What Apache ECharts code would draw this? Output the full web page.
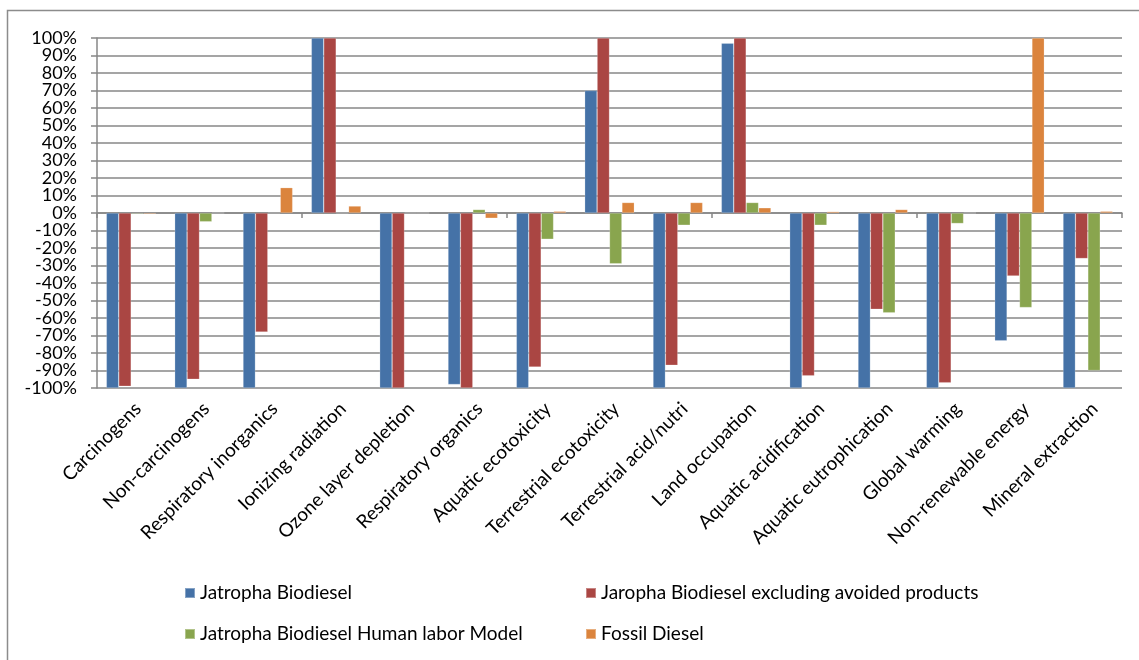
<!DOCTYPE html>
<html>
<head>
<meta charset="utf-8">
<script src="https://cdn.jsdelivr.net/npm/echarts@6/dist/echarts.min.js"></script>
<style>
  html, body { margin: 0; padding: 0; background: #ffffff; }
  #chart { width: 1139px; height: 660px; }
</style>
</head>
<body>
<div id="chart"></div>
<script>
// Impact categories along the x axis
const categories = [
  'Carcinogens', 'Non-carcinogens', 'Respiratory inorganics', 'Ionizing radiation',
  'Ozone layer depletion', 'Respiratory organics', 'Aquatic ecotoxicity',
  'Terrestrial ecotoxicity', 'Terrestrial acid/nutri', 'Land occupation',
  'Aquatic acidification', 'Aquatic eutrophication', 'Global warming',
  'Non-renewable energy', 'Mineral extraction'
];

// Percent tick labels on the value axis, bottom to top
const yTickLabels = [
  '-100%', '-90%', '-80%', '-70%', '-60%', '-50%', '-40%', '-30%', '-20%', '-10%',
  '0%', '10%', '20%', '30%', '40%', '50%', '60%', '70%', '80%', '90%', '100%'
];

// Relative impact per scenario, in percent
const jatrophaBiodiesel = [-100, -100, -100, 100, -100, -98, -100, 70, -100, 97, -100, -100, -100, -73, -100];
const jatrophaExclAvoided = [-99, -95, -68, 100, -100, -100, -88, 100, -87, 100, -93, -55, -97, -36, -26];
const jatrophaHumanLabor = [-0.5, -5, 0, 0, 0, 2, -15, -29, -7, 6, -7, -57, -6, -54, -90];
const fossilDiesel = [-0.6, 0, 14.5, 4, 0, -3, 1, 6, 6, 3, 0.8, 2, 0, 100, 1];

const seriesNames = [
  'Jatropha Biodiesel',
  'Jaropha Biodiesel excluding avoided products',
  'Jatropha Biodiesel Human labor Model',
  'Fossil Diesel'
];
const seriesColors = ['#4572A7', '#AA4643', '#89A54E', '#DB843D'];
const seriesData = [jatrophaBiodiesel, jatrophaExclAvoided, jatrophaHumanLabor, fossilDiesel];

const FONT = 'Lato, "Open Sans", sans-serif';
const GRID_GRAY = '#878787';

const chart = echarts.init(document.getElementById('chart'), null, { renderer: 'canvas' });

const legendText = { fontFamily: FONT, fontSize: 19, color: '#000', lineHeight: 20 };

chart.setOption({
  animation: false,
  backgroundColor: '#ffffff',
  graphic: [{
    type: 'rect',
    shape: { x: 7.5, y: 10.5, width: 1300, height: 800 },
    style: { fill: 'none', stroke: '#8c8c8c', lineWidth: 1.5 },
    silent: true
  }],
  grid: { left: 97, right: 17, top: 38, bottom: 272, containLabel: false },
  legend: [
    {
      left: 184, top: 583, orient: 'vertical', itemGap: 21, padding: 0,
      itemWidth: 10, itemHeight: 10, icon: 'rect',
      textStyle: legendText,
      data: [seriesNames[0], seriesNames[2]]
    },
    {
      left: 585, top: 583, orient: 'vertical', itemGap: 21, padding: 0,
      itemWidth: 10, itemHeight: 10, icon: 'rect',
      textStyle: legendText,
      data: [seriesNames[1], seriesNames[3]]
    }
  ],
  xAxis: [
    {
      // category labels along the bottom of the plot
      type: 'category',
      data: categories,
      position: 'bottom',
      axisLine: { show: false, onZero: false },
      axisTick: { show: false },
      splitLine: { show: false },
      axisLabel: {
        rotate: 45, interval: 0, margin: 11,
        align: 'right', verticalAlign: 'top',
        fontFamily: FONT, fontSize: 19, color: '#000'
      }
    },
    {
      // baseline through zero with tick marks between categories
      type: 'category',
      data: categories,
      position: 'bottom',
      axisLine: { show: true, onZero: true, lineStyle: { color: GRID_GRAY, width: 1.5 } },
      axisTick: { show: true, length: 5, lineStyle: { color: GRID_GRAY, width: 1.5 } },
      axisLabel: { show: false },
      splitLine: { show: false }
    }
  ],
  yAxis: [
    {
      // value scale: line, ticks and gridlines
      type: 'value',
      min: -100, max: 100, interval: 10,
      axisLine: { show: true, onZero: false, lineStyle: { color: GRID_GRAY, width: 1.5 } },
      axisTick: { show: true, length: 6, lineStyle: { color: GRID_GRAY, width: 1.5 } },
      splitLine: { show: true, lineStyle: { color: GRID_GRAY, width: 1.5 } },
      axisLabel: { show: false }
    },
    {
      // percent labels, one per gridline, all shown
      type: 'category',
      data: yTickLabels,
      boundaryGap: false,
      position: 'left',
      axisLine: { show: false, onZero: false },
      axisTick: { show: false },
      splitLine: { show: false },
      axisLabel: {
        interval: 0, margin: 20,
        fontFamily: FONT, fontSize: 18, color: '#000'
      }
    }
  ],
  series: seriesNames.map((name, i) => ({
    name: name,
    type: 'bar',
    xAxisIndex: 0,
    yAxisIndex: 0,
    data: seriesData[i],
    barGap: '0%',
    barCategoryGap: '27.3%',
    itemStyle: {
      color: seriesColors[i],
      borderColor: 'rgba(255,255,255,0.35)',
      borderWidth: 0.6
    }
  }))
});
</script>
</body>
</html>
